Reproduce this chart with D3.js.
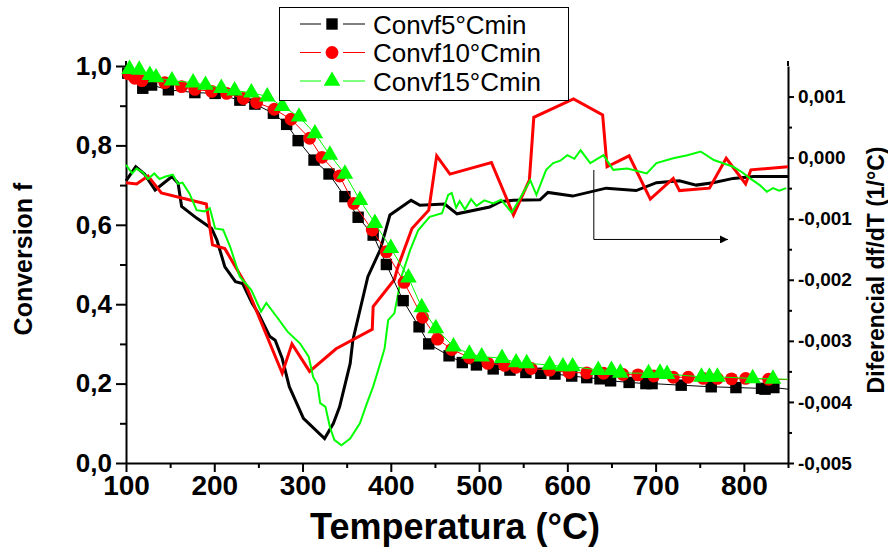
<!DOCTYPE html>
<html><head><meta charset="utf-8">
<script src="https://cdn.jsdelivr.net/npm/d3@7"></script>
<style>
body{margin:0;background:#fff;}
svg{display:block;font-family:"Liberation Sans",Arial,sans-serif;}
</style></head>
<body><svg id="c" width="888" height="548"></svg>
<script>
// ---- data ----
const seriesNames = ["Convf5°Cmin","Convf10°Cmin","Convf15°Cmin"];
const seriesColors = ["#000000","#ff0000","#00ff00"];

const conv5T = [102,119,129,148,178,201,229,246,267,282,295,313,330,348,363,380,395,414,432,443,466,481,497,516,535,553,570,586,605,622,637,649,670,689,696,729,763,791,820,824,834,850];
const conv5F = [0.982,0.944,0.952,0.940,0.933,0.931,0.914,0.904,0.881,0.853,0.812,0.763,0.728,0.671,0.619,0.574,0.500,0.409,0.343,0.300,0.270,0.253,0.247,0.237,0.234,0.228,0.226,0.224,0.219,0.215,0.212,0.207,0.203,0.200,0.200,0.196,0.192,0.190,0.188,0.186,0.190,0.186];

const conv10T = [103,110,118,144,163,178,197,214,233,248,268,287,308,322,342,358,379,395,415,436,453,469,489,510,529,542,559,580,602,622,641,663,680,698,720,737,754,770,786,802,828,850];
const conv10F = [0.980,0.969,0.963,0.958,0.948,0.941,0.936,0.931,0.918,0.908,0.891,0.866,0.818,0.770,0.723,0.654,0.587,0.532,0.455,0.367,0.312,0.286,0.266,0.251,0.246,0.241,0.238,0.234,0.228,0.227,0.226,0.223,0.222,0.219,0.216,0.216,0.213,0.213,0.212,0.213,0.211,0.210];

const conv15T = [104,115,127,134,152,176,190,208,223,242,260,277,296,314,331,348,365,382,400,420,435,451,471,489,503,526,542,554,580,595,606,635,650,660,692,705,713,752,761,770,810,833,850];
const conv15F = [0.992,0.990,0.977,0.971,0.963,0.958,0.952,0.944,0.938,0.933,0.923,0.899,0.872,0.830,0.776,0.728,0.662,0.604,0.541,0.467,0.392,0.339,0.293,0.275,0.268,0.264,0.253,0.251,0.247,0.243,0.243,0.234,0.234,0.227,0.226,0.227,0.224,0.217,0.217,0.217,0.213,0.212,0.211];

const der5T = [100,111,121,133,152,159,163,180,197,203,212,224,232,243,250,263,269,277,285,301,325,335,342,354,357,374,388,399,410,423,433,461,475,512,524,539,569,578,606,644,678,701,727,746,765,788,811,850];
const der5D = [-0.00038,-0.00015,-0.00027,-0.00053,-0.00031,-0.00042,-0.00080,-0.00099,-0.00116,-0.00135,-0.00179,-0.00203,-0.00206,-0.00239,-0.00255,-0.00293,-0.00299,-0.00329,-0.00375,-0.00427,-0.00460,-0.00435,-0.00408,-0.00337,-0.00299,-0.00195,-0.00151,-0.00094,-0.00083,-0.00070,-0.00078,-0.00076,-0.00092,-0.00081,-0.00072,-0.00070,-0.00069,-0.00057,-0.00063,-0.00050,-0.00054,-0.00041,-0.00038,-0.00045,-0.00041,-0.00034,-0.00031,-0.00031];

const der10T = [100,112,125,140,191,198,212,235,277,288,308,338,379,380,404,408,424,443,452,467,514,539,557,562,607,640,645,670,694,720,727,761,780,802,808,850];
const der10D = [-0.00041,-0.00043,-0.00030,-0.00058,-0.00076,-0.00143,-0.00149,-0.00206,-0.00353,-0.00305,-0.00350,-0.00313,-0.00281,-0.00244,-0.00200,-0.00179,-0.00116,-0.00086,0.00003,-0.00027,-0.00008,-0.00094,-0.00037,0.00066,0.00096,0.00070,-0.00015,0.00003,-0.00068,-0.00034,-0.00054,-0.00050,-0.00001,-0.00043,-0.00020,-0.00015];

const der15T = [100,107,112,119,125,132,138,145,153,159,164,172,180,189,195,201,210,218,229,242,253,259,272,283,297,307,312,317,320,326,331,336,344,354,365,373,380,388,393,397,404,412,422,431,444,458,465,469,474,478,484,491,497,506,516,525,537,543,558,565,576,584,592,600,608,615,626,633,641,652,668,690,701,720,736,751,766,778,788,798,807,818,826,833,840,848];
const der15D = [-0.00012,-0.00026,-0.00018,-0.00024,-0.00035,-0.00026,-0.00035,-0.00031,-0.00028,-0.00043,-0.00041,-0.00059,-0.00086,-0.00088,-0.00083,-0.00116,-0.00118,-0.00146,-0.00195,-0.00217,-0.00252,-0.00238,-0.00263,-0.00285,-0.00304,-0.00326,-0.00359,-0.00372,-0.00402,-0.00408,-0.00441,-0.00462,-0.00471,-0.00460,-0.00435,-0.00402,-0.00375,-0.00337,-0.00312,-0.00266,-0.00255,-0.00195,-0.00151,-0.00119,-0.00097,-0.00091,-0.00061,-0.00058,-0.00082,-0.00071,-0.00085,-0.00068,-0.00079,-0.00070,-0.00075,-0.00069,-0.00090,-0.00075,-0.00037,-0.00061,-0.00020,-0.00009,-0.00005,0.00004,-0.00002,0.00012,-0.00009,-0.00003,0.00004,-0.00020,-0.00018,-0.00026,-0.00009,-0.00001,0.00004,0.00010,-0.00004,-0.00010,-0.00015,-0.00024,-0.00034,-0.00045,-0.00056,-0.00050,-0.00054,-0.00050];

const xTicks = [100,200,300,400,500,600,700,800];
const xMinor = [150,250,350,450,550,650,750,850];
const yLTicks = [0,0.2,0.4,0.6,0.8,1.0];
const yLMinor = [0.1,0.3,0.5,0.7,0.9];
const yRTicks = [-0.005,-0.004,-0.003,-0.002,-0.001,0,0.001];
const yRMinor = [-0.0045,-0.0035,-0.0025,-0.0015,-0.0005,0.0005];

// ---- scales ----
const svg = d3.select("#c");
const x = d3.scaleLinear().domain([100,850]).range([126,788]);
const yL = d3.scaleLinear().domain([0,1]).range([463,66]);
const yR = d3.scaleLinear().domain([-0.005,0.0015]).range([463,66]);

const loc = d3.formatLocale({decimal:",", thousands:".", grouping:[3], currency:["",""], minus:"-"});
const fmt1 = loc.format(".1f");
const fmt3r = loc.format(".3f");
const fmt3 = v => (Math.abs(v)<1e-12 ? "0,000" : fmt3r(v));

// ---- axes ----
function styleAxis(g, fs){
  g.select(".domain").attr("stroke","#000").attr("stroke-width",2);
  g.selectAll(".tick line").attr("stroke","#000").attr("stroke-width",2);
  g.selectAll(".tick text").attr("font-weight","bold").attr("font-size",fs).attr("fill","#000")
   .attr("font-family","'Liberation Sans',Arial,sans-serif");
}
const gx = svg.append("g").attr("transform","translate(0,463)")
  .call(d3.axisBottom(x).tickValues(xTicks).tickSize(9).tickPadding(3).tickSizeOuter(0).tickFormat(d3.format("d")));
styleAxis(gx, 28);
svg.append("g").attr("transform","translate(0,463)")
  .call(d3.axisBottom(x).tickValues(xMinor).tickSize(5).tickFormat("").tickSizeOuter(0))
  .call(g=>{g.select(".domain").remove(); g.selectAll("line").attr("stroke","#000").attr("stroke-width",2);});

const gl = svg.append("g").attr("transform","translate(126,0)")
  .call(d3.axisLeft(yL).tickValues(yLTicks).tickSize(10).tickPadding(4).tickSizeOuter(0).tickFormat(fmt1));
styleAxis(gl, 26);
svg.append("g").attr("transform","translate(126,0)")
  .call(d3.axisLeft(yL).tickValues(yLMinor).tickSize(6).tickFormat("").tickSizeOuter(0))
  .call(g=>{g.select(".domain").remove(); g.selectAll("line").attr("stroke","#000").attr("stroke-width",2);});
svg.append("line").attr("x1",126).attr("x2",126).attr("y1",61).attr("y2",66).attr("stroke","#000").attr("stroke-width",2);

const gr = svg.append("g").attr("transform","translate(788,0)")
  .call(d3.axisRight(yR).tickValues(yRTicks).tickSize(6).tickPadding(4).tickSizeOuter(0).tickFormat(fmt3));
styleAxis(gr, 19);
svg.append("g").attr("transform","translate(788,0)")
  .call(d3.axisRight(yR).tickValues(yRMinor).tickSize(4).tickFormat("").tickSizeOuter(0))
  .call(g=>{g.select(".domain").remove(); g.selectAll("line").attr("stroke","#000").attr("stroke-width",2);});
svg.append("line").attr("x1",788).attr("x2",788).attr("y1",61).attr("y2",66).attr("stroke","#000").attr("stroke-width",2);

// ---- axis titles ----
svg.append("text").attr("x",455).attr("y",539).attr("text-anchor","middle")
  .attr("font-weight","bold").attr("font-size",36).text("Temperatura (°C)");
svg.append("text").attr("transform","translate(32,259) rotate(-90)").attr("text-anchor","middle")
  .attr("font-weight","bold").attr("font-size",25).text("Conversion f");
svg.append("text").attr("transform","translate(884,270) rotate(-90)").attr("text-anchor","middle")
  .attr("font-weight","bold").attr("font-size",23).text("Diferencial df/dT (1/°C)");

// ---- derivative curves (right axis) ----
const derData = [
  {t:der5T, v:der5D, c:seriesColors[0], w:3},
  {t:der10T, v:der10D, c:seriesColors[1], w:3},
  {t:der15T, v:der15D, c:seriesColors[2], w:2}
];
const lineR = d3.line().x(d=>x(d[0])).y(d=>yR(d[1]));
derData.forEach(s=>{
  svg.append("path").datum(s.t.map((t,i)=>[t,s.v[i]]))
    .attr("d",lineR).attr("fill","none").attr("stroke",s.c).attr("stroke-width",s.w)
    .attr("stroke-linejoin","miter");
});

// ---- conversion curves (left axis) ----
const convData = [
  {t:conv5T, v:conv5F, c:seriesColors[0], sym:d3.symbolSquare, size:130},
  {t:conv10T, v:conv10F, c:seriesColors[1], sym:d3.symbolCircle, size:130},
  {t:conv15T, v:conv15F, c:seriesColors[2], sym:d3.symbolTriangle, size:120}
];
const lineL = d3.line().x(d=>x(d[0])).y(d=>yL(d[1]));
convData.forEach(s=>{
  const pts = s.t.map((t,i)=>[t,s.v[i]]);
  svg.append("path").datum(pts).attr("d",lineL).attr("fill","none").attr("stroke",s.c).attr("stroke-width",1);
  svg.append("g").selectAll("path").data(pts.slice(0,-1)).join("path")
    .attr("transform",d=>`translate(${x(d[0])},${yL(d[1])})`)
    .attr("d",d3.symbol().type(s.sym).size(s.size)).attr("fill",s.c);
});

// ---- arrow annotation ----
svg.append("defs").append("marker").attr("id","ah").attr("viewBox","0 0 10 10")
  .attr("refX",10).attr("refY",5).attr("markerWidth",16).attr("markerHeight",8)
  .attr("markerUnits","userSpaceOnUse").attr("orient","auto")
  .append("path").attr("d","M0,0L10,5L0,10Z").attr("fill","#000");
svg.append("path").attr("d",`M${x(630)},170V${yR(-0.00134)}H${x(782)}`)
  .attr("fill","none").attr("stroke","#000").attr("stroke-width",1).attr("marker-end","url(#ah)");

// ---- legend ----
const lg = svg.append("g");
lg.append("rect").attr("x",279.5).attr("y",7.5).attr("width",289).attr("height",93)
  .attr("fill","#fff").attr("stroke","#000").attr("stroke-width",1);
convData.forEach((s,i)=>{
  const cy = 24 + i*28.5;
  lg.append("line").attr("x1",300).attr("x2",321).attr("y1",cy).attr("y2",cy).attr("stroke",s.c).attr("stroke-width",1);
  lg.append("line").attr("x1",343).attr("x2",365).attr("y1",cy).attr("y2",cy).attr("stroke",s.c).attr("stroke-width",1);
  lg.append("path").attr("transform",`translate(332,${cy})`).attr("d",d3.symbol().type(s.sym).size(s.size)).attr("fill",s.c);
  lg.append("text").attr("x",373).attr("y",cy+9.5).attr("font-size",26).attr("fill","#000").text(seriesNames[i]);
});
</script></body></html>
